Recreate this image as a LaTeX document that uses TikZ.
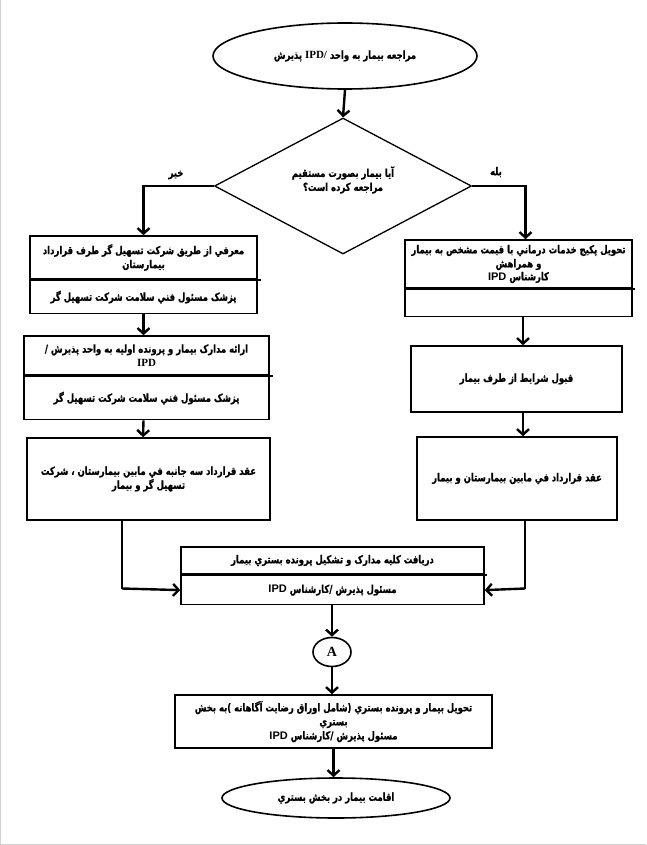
\documentclass[tikz,border=0pt]{standalone}
\usepackage{fontspec}
\usepackage{tikz}
\usetikzlibrary{shapes.geometric, arrows.meta, positioning}
\TeXXeTstate=1
\newfontfamily\fa[Script=Arabic, FakeStretch=0.77, BoldFeatures={FakeBold=0.8}]{DejaVu Sans}
\newfontfamily\lsans{Liberation Sans}
\newfontfamily\lserif{Liberation Serif}
\newcommand{\rl}[1]{\beginR #1\endR}
\newcommand{\ipd}{\beginL{\lsans IPD}\endL}

\begin{document}
\begin{tikzpicture}[
  x=1pt, y=-1pt,
  every node/.style={font=\fa\bfseries\fontsize{11}{14}\selectfont, align=center, inner sep=1pt},
  term/.style={draw, ellipse, line width=1.6pt, inner sep=0pt},
  decision/.style={draw, diamond, line width=1.3pt, inner sep=0pt},
  box/.style={draw, rectangle, line width=1.6pt, inner sep=0pt},
  divider/.style={line width=2.6pt},
  link/.style={line width=1.4pt},
  arrow/.style={-{Straight Barb[length=5.5pt,width=12pt]}, line width=2.4pt}
]
\useasboundingbox (0,0) rectangle (646,845);
\draw[gray!35, line width=1.2pt] (0.6,0) -- (0.6,844.4) -- (646,844.4);

\node[term, minimum width=264pt, minimum height=66pt] (start) at (345,56)
  {\rl{مراجعه بیمار به واحد \beginL{\lserif IPD/}\endL{} پذیرش}};
\node[decision, minimum width=257pt, minimum height=136pt] (q) at (343,186) {};
\node (qtext) at ([yshift=6pt]q.center)
  {\rl{آیا بیمار بصورت مستقیم}\\ \rl{مراجعه کرده است؟}};
\node (no) at (176,175) {\rl{خیر}};
\node (yes) at (496,172) {\rl{بله}};

\node[box, minimum width=227pt, minimum height=43pt] (l1) at (143.5,257.5)
  {\rl{معرفي از طریق شرکت تسهیل گر طرف قرارداد}\\ \rl{بیمارستان}};
\node[box, minimum width=227pt, minimum height=33pt, anchor=north] (l1b) at (l1.south)
  {\rl{پزشک مسئول فني سلامت شرکت تسهیل گر}};
\node[box, minimum width=245pt, minimum height=39pt] (l2) at (146.5,355.5)
  {\rl{ارائه مدارک بیمار و پرونده اولیه به واحد پذیرش /}\\ {\lserif IPD}};
\node[box, minimum width=245pt, minimum height=43pt, anchor=north] (l2b) at (l2.south)
  {\rl{پزشک مسئول فني سلامت شرکت تسهیل گر}};
\node[box, minimum width=243pt, minimum height=82pt] (l3) at (148.5,479)
  {\rl{عقد قرارداد سه جانبه في مابین بیمارستان ، شرکت}\\ \rl{تسهیل گر و بیمار}};

\node[box, minimum width=227pt, minimum height=48pt] (r1) at (518.5,264)
  {\rl{تحویل پکیج خدمات درماني با قیمت مشخص به بیمار}\\ \rl{و همراهش}\\[-1pt] \rl{کارشناس \ipd}};
\node[box, minimum width=227pt, minimum height=27pt, anchor=north] (r1b) at (r1.south) {};
\node[box, minimum width=211pt, minimum height=66pt] (r2) at (516.5,379)
  {\rl{قبول شرایط از طرف بیمار}};
\node[box, minimum width=200pt, minimum height=83pt] (r3) at (517,478.5)
  {\rl{عقد قرارداد في مابین بیمارستان و بیمار}};

\node[box, minimum width=303pt, minimum height=27pt] (m) at (332.5,560.5)
  {\rl{دریافت کلیه مدارک و تشکیل پرونده بستري بیمار}};
\node[box, minimum width=303pt, minimum height=29pt, anchor=north] (mb) at (m.south)
  {\rl{مسئول پذیرش /کارشناس \ipd}};
\node[draw, ellipse, line width=1.6pt, minimum width=38pt, minimum height=29pt,
  inner sep=0pt, font=\lserif\bfseries\fontsize{14}{14}\selectfont] (a) at (332,652) {A};
\node[box, minimum width=317pt, minimum height=53pt] (f) at (333.5,721.5)
  {\rl{تحویل بیمار و پرونده بستري (شامل اوراق رضایت آگاهانه )به بخش}\\
   \rl{بستري}\\ \rl{مسئول پذیرش /کارشناس \ipd}};
\node[term, minimum width=228pt, minimum height=40pt] (stay) at (336,798)
  {\rl{اقامت بیمار در بخش بستري}};

\draw[divider] (l1.south west) -- ([xshift=3pt]l1.south east);
\draw[divider] (l2.south west) -- ([xshift=3pt]l2.south east);
\draw[divider] (r1.south west) -- ([xshift=2pt]r1.south east);
\draw[divider] (m.south west) -- ([xshift=2pt]m.south east);

\coordinate (lj) at (122,588.5);
\coordinate (rj) at (525,588.5);
\draw[arrow] (start.south) -- (q.north);
\draw[arrow] (q.west) -| (l1.north);
\draw[arrow] (q.east) -| ([xshift=7pt]r1.north);
\draw[arrow] (l1b.south) -- (l1b.south |- l2.north);
\draw[arrow] ([xshift=-3pt]l2b.south) -- ([xshift=-5.5pt]l3.north);
\draw[arrow] ([xshift=4.5pt]r1b.south) -- ([xshift=6.5pt]r2.north);
\draw[arrow] ([xshift=6.5pt]r2.south) -- ([xshift=6pt]r3.north);
\draw[link] ([xshift=-26.5pt]l3.south) -- (lj);
\draw[link] ([xshift=8pt]r3.south) -- (rj);
\draw[arrow] (lj) -- (mb.west);
\draw[arrow] (rj) -- (mb.east);
\draw[arrow] ([xshift=-0.5pt]mb.south) -- (a.north);
\draw[arrow] (a.south) -- (a.south |- f.north);
\draw[arrow] (f.south) -- (f.south |- stay.north);
\end{tikzpicture}
\end{document}
